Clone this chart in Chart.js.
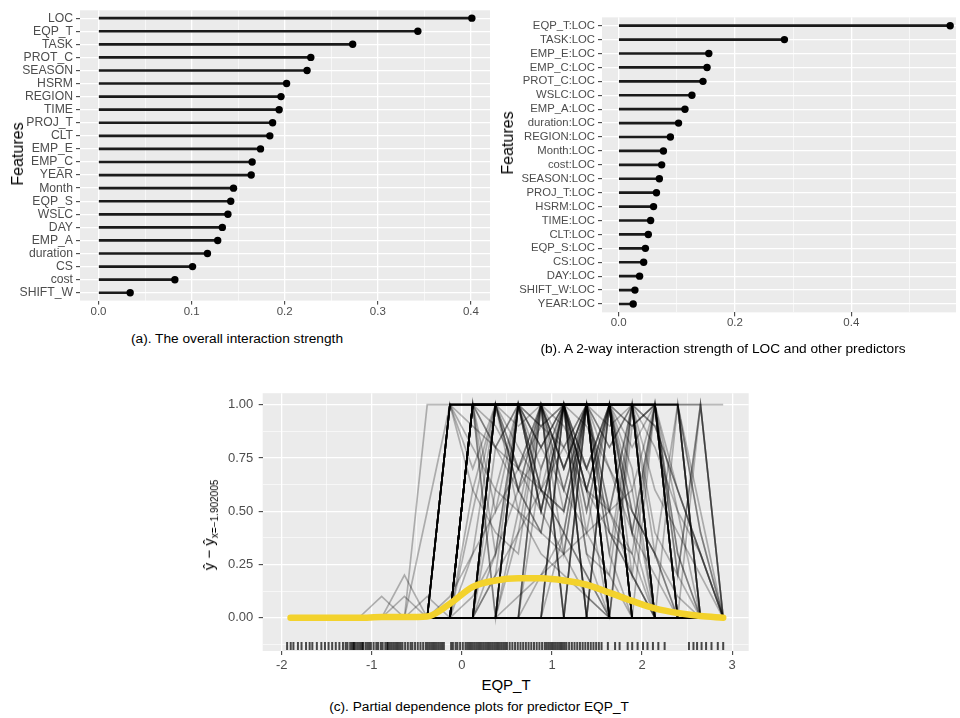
<!DOCTYPE html>
<html>
<head>
<meta charset="utf-8">
<title>Interaction strength and partial dependence</title>
<script src="https://cdn.jsdelivr.net/npm/chart.js@4.4.1/dist/chart.umd.min.js"></script>
<style>
  html, body { margin: 0; padding: 0; background: #fff; }
  body { position: relative; width: 960px; height: 718px; overflow: hidden; font-family: "Liberation Sans", Arial, sans-serif; }
  .panel { position: absolute; }
  .txt { position: absolute; white-space: nowrap; color: #000; transform: translate(-50%, -50%); }
  .cap { font-size: 13.7px; }
  .vert { transform: translate(-50%, -50%) rotate(-90deg); }
</style>
</head>
<body>
<div class="panel" style="left:0;top:0;width:494px;height:326px"><canvas id="chartA"></canvas></div>
<div class="panel" style="left:490px;top:0;width:470px;height:340px"><canvas id="chartB"></canvas></div>
<div class="panel" style="left:185px;top:380px;width:575px;height:292px"><canvas id="chartC"></canvas></div>

<div class="txt vert" style="left:17.5px;top:153.5px;font-size:16px">Features</div>
<div class="txt vert" style="left:508px;top:142.5px;font-size:16px">Features</div>
<div class="txt cap" style="left:237px;top:338px">(a). The overall interaction strength</div>
<div class="txt cap" style="left:723px;top:348px">(b). A 2-way interaction strength of LOC and other predictors</div>
<div class="txt vert" style="left:210px;top:525px;font-size:15px">ŷ − ŷ<sub style="font-size:10px">x=−1.902005</sub></div>
<div class="txt" style="left:506px;top:684px;font-size:15px">EQP_T</div>
<div class="txt cap" style="left:479px;top:706px">(c). Partial dependence plots for predictor EQP_T</div>

<script>
// (a) overall interaction strength
const featA = ['LOC', 'EQP_T', 'TASK', 'PROT_C', 'SEASON', 'HSRM', 'REGION', 'TIME', 'PROJ_T', 'CLT', 'EMP_E',
  'EMP_C', 'YEAR', 'Month', 'EQP_S', 'WSLC', 'DAY', 'EMP_A', 'duration', 'CS', 'cost', 'SHIFT_W'];
const strengthA = [0.401, 0.343, 0.273, 0.228, 0.224, 0.202, 0.196, 0.194, 0.187, 0.184, 0.174,
  0.165, 0.164, 0.145, 0.142, 0.139, 0.133, 0.128, 0.117, 0.101, 0.082, 0.034];
const ticksA = [0, 0.1, 0.2, 0.3, 0.4];
const tickLabelsA = ['0.0', '0.1', '0.2', '0.3', '0.4'];
const minorA = [0.05, 0.15, 0.25, 0.35];

// (b) 2-way interaction with LOC
const featB = ['EQP_T:LOC', 'TASK:LOC', 'EMP_E:LOC', 'EMP_C:LOC', 'PROT_C:LOC', 'WSLC:LOC', 'EMP_A:LOC',
  'duration:LOC', 'REGION:LOC', 'Month:LOC', 'cost:LOC', 'SEASON:LOC', 'PROJ_T:LOC', 'HSRM:LOC', 'TIME:LOC',
  'CLT:LOC', 'EQP_S:LOC', 'CS:LOC', 'DAY:LOC', 'SHIFT_W:LOC', 'YEAR:LOC'];
const strengthB = [0.570, 0.285, 0.155, 0.152, 0.145, 0.126, 0.114, 0.103, 0.089, 0.077, 0.074,
  0.070, 0.065, 0.060, 0.055, 0.051, 0.046, 0.043, 0.036, 0.028, 0.025];
const ticksB = [0, 0.2, 0.4];
const tickLabelsB = ['0.0', '0.2', '0.4'];
const minorB = [0.1, 0.3, 0.5];

// (c) ICE / PDP for EQP_T
const gridX = [-1.902, -1.649, -1.396, -1.144, -0.891, -0.638, -0.385, -0.133, 0.120, 0.373,
  0.626, 0.878, 1.131, 1.384, 1.637, 1.889, 2.142, 2.395, 2.648, 2.900];
// one char per grid point: digit = tenths, X = 1
const icePatterns = [
  '00000000000000000000', '000000XXXXXXXXXXXXXX', '0000000XXXXX00000000', '0000000XXXXXXX000000',
  '0000000XXXXXXXX00000', '0000000XXXXXXXXX0000', '00000000XXXX00000000', '00000000XXXXX0000000',
  '00000000XXXXXX000000', '00000000XXXXXXX00000', '00000000XXXXXXXX0000', '00000000XXXXXXXXX000',
  '000000000XXXXX000000', '000000000XXXXXX00000', '000000000XXXXXXX0000', '000000000XXXXXXXX000',
  '000000000XXXXXXXXX00', '0000000000XXXXXXX000', '0000000000XXXXXXXX00',
  '00001000000000000000', '00000000X97531000000', '0000000000X864200000', '000000013579XXX00000',
  '00000000XXX986420000', '0000000002468XXXX000', '000000000X7X5X300000', '0000000X643XXX000000',
  '00000000005XXXXXX300', '000000000000XXXX9630', '00000000000000XXX630', '0000000000000XXXXX50',
  '00000000XXXXXXXXXX40', '000000005X6X7X000000', '0000000000X5XXX00000', '00000000X5X8X6X40000',
  '000000003X9X7X520000', '0000005XXXXXX0000000', '00000100XXXXX0000000', '000000000000X6X4X000',
  '00000000000000X4X000', '0000000008XXXX742000', '0000000000000000XX00', '00000000000000000X00',
  '000000000000000000X0', '0000000000000XXXXXX0', '0000000000X6420XX000', '000000000X64X5X00000',
  '0000000000004XXXXX00', '00000000X8643X000000', '00000000000X7XXX0000',
  '0000000X865321000000', '00000000X8X642000000', '000000001368XXX00000', '0000000002X8X6X00000',
  '0000000000XX97X53000', '00000000X0X9X7530000', '000000000X86XX420000', '0000000003X5X7X9X000',
  '0000000000024XX8X500', '000000000000X9753100', '00000000000XX7X53000', '0000000000000X8X6420',
  '000000000000000X9630', '00000000000000XX8530', '0000000X7XX5X3000000', '000000006X7X8X9X0000',
  '0000000006XX3XX00000', '000000000007X5X9X300', '0000000000000009XX40', '00000000004X6X3X0000',
  '00000000X3X5X6000000', '000000000X6X7XX70000', '0000000000X7X4X2X000', '00000000000X6X8XX200',
  '0000000000000X5X3X00', '00000000000000X6X2X0', '0000000X98765X000000', '00000000X01234560000',
  '000000000X54X32X0000', '0000000000X65X43X000', '000000000000X65X42X0', '00000010000000000000',
  '00000200000000000000'
];
const iceCounts = [
  164, 1, 3, 3, 3, 3, 1, 3, 3, 3, 2, 2, 2, 2, 2, 1, 1, 1, 1,
  1, 1, 1, 1, 1, 1, 1, 1, 1, 1, 1, 1, 1, 1, 1, 1, 1, 1, 1, 1, 1, 1, 1, 1, 1, 1, 1, 1, 1, 1, 1,
  1, 1, 1, 1, 1, 1, 1, 1, 1, 1, 1, 1, 1, 1, 1, 1, 1, 1, 1, 1, 1, 1, 1, 1, 1, 1, 1, 1, 1, 1, 1, 1, 1
];
const pdpY = [0, 0, 0, 0, 0.003, 0.003, 0.006, 0.066, 0.145, 0.175,
  0.186, 0.185, 0.175, 0.155, 0.118, 0.079, 0.044, 0.022, 0.008, 0];
const rugX = [
  -1.94, -1.90, -1.87, -1.82, -1.78, -1.73, -1.69, -1.66, -1.61, -1.56, -1.52, -1.48, -1.44, -1.40, -1.36,
  -1.32, -1.29, -1.27, -1.24, -1.22, -1.20, -1.20, -1.18, -1.16, -1.14, -1.12, -1.10, -1.10, -1.07, -1.05,
  -1.03, -1.01, -0.98, -0.95, -0.93, -0.90, -0.88, -0.85, -0.83, -0.82, -0.80, -0.78, -0.76, -0.74, -0.72,
  -0.70, -0.68, -0.66, -0.63, -0.60, -0.57, -0.55, -0.52, -0.49, -0.46, -0.43, -0.40, -0.38, -0.36, -0.34,
  -0.32, -0.30, -0.28, -0.26, -0.24, -0.22, -0.20,
  -0.12, -0.10, -0.07, -0.05, -0.02, 0.01, 0.04, 0.06, 0.08, 0.10, 0.12, 0.14, 0.16, 0.18, 0.20, 0.22,
  0.24, 0.26, 0.28, 0.30, 0.32, 0.34, 0.36, 0.38, 0.40, 0.42, 0.44, 0.46, 0.48, 0.50, 0.53, 0.56, 0.59,
  0.62, 0.65, 0.68, 0.71, 0.74, 0.77, 0.80, 0.83, 0.86, 0.89, 0.92, 0.94, 0.96, 0.98, 1.00, 1.02, 1.04,
  1.06, 1.08, 1.10, 1.12, 1.14, 1.16, 1.19, 1.22, 1.25, 1.28, 1.31, 1.34, 1.37, 1.40, 1.43, 1.46, 1.49,
  1.52, 1.55,
  1.62, 1.70, 1.75, 1.84, 1.89, 1.95, 2.01, 2.06, 2.12, 2.18, 2.25,
  2.52, 2.57, 2.61, 2.66, 2.71, 2.77, 2.84, 2.90
];
const ticksXC = [-2, -1, 0, 1, 2, 3];
const tickLabelsXC = ['-2', '-1', '0', '1', '2', '3'];
const minorXC = [-1.5, -0.5, 0.5, 1.5, 2.5];
const ticksYC = [0, 0.25, 0.5, 0.75, 1];
const tickLabelsYC = ['0.00', '0.25', '0.50', '0.75', '1.00'];
const minorYC = [-0.125, 0.125, 0.375, 0.625, 0.875];

// grey ggplot panel behind the plot area
const panelBg = {
  id: 'panelBg',
  beforeDraw(chart) {
    const { ctx, chartArea: a } = chart;
    ctx.save();
    ctx.fillStyle = '#EBEBEB';
    ctx.fillRect(a.left, a.top, a.right - a.left, a.bottom - a.top);
    ctx.restore();
  }
};

const font = size => ({ family: 'Liberation Sans', size });
const near = (list, v) => list.some(m => Math.abs(m - v) < 1e-6);

function valueAxis(min, max, majors, labels, minors, fontSize, axisSize, pad, vertical) {
  return {
    type: 'linear', min, max, offset: false,
    afterBuildTicks: s => { s.ticks = majors.concat(minors).sort((p, q) => p - q).map(value => ({ value })); },
    afterFit: s => { if (vertical) s.width = axisSize; else s.height = axisSize; },
    ticks: {
      autoSkip: false, maxRotation: 0, padding: pad, color: '#4D4D4D', font: font(fontSize),
      callback: v => {
        const i = majors.findIndex(m => Math.abs(m - v) < 1e-6);
        return i < 0 ? '' : labels[i];
      }
    },
    grid: {
      offset: false, color: '#FFFFFF',
      lineWidth: c => (c.tick && near(majors, c.tick.value)) ? 1.3 : 0.6,
      tickLength: 4, tickWidth: 1,
      tickColor: c => (c.tick && near(majors, c.tick.value)) ? '#333333' : 'rgba(0,0,0,0)'
    },
    border: { display: false }
  };
}

function rowAxis(feats, fontSize, axisW) {
  return {
    type: 'linear', reverse: true, min: -0.6, max: feats.length - 0.4, offset: false,
    afterBuildTicks: s => { s.ticks = feats.map((f, i) => ({ value: i })); },
    afterFit: s => { s.width = axisW; },
    ticks: { autoSkip: false, padding: 3, color: '#4D4D4D', font: font(fontSize), callback: v => feats[v] },
    grid: { offset: false, color: '#FFFFFF', lineWidth: 1.3, tickLength: 4, tickWidth: 1, tickColor: '#333333' },
    border: { display: false }
  };
}

function lollipop(id, feats, vals, xAxis, yAxis, padTop) {
  const pts = vals.map((v, i) => ({ x: v, y: i }));
  return new Chart(document.getElementById(id), {
    type: 'scatter',
    data: {
      datasets: [
        { data: pts, pointRadius: 3.7, pointBackgroundColor: '#000', pointBorderWidth: 0, order: 0 },
        { type: 'bar', indexAxis: 'y', data: pts, backgroundColor: '#1A1A1A', barThickness: 2, order: 1 }
      ]
    },
    options: {
      animation: false, responsive: true, maintainAspectRatio: false, events: [],
      layout: { padding: { top: padTop, left: 0, right: 0, bottom: 0 } },
      plugins: { legend: { display: false }, tooltip: { enabled: false } },
      scales: { x: xAxis, y: yAxis }
    },
    plugins: [panelBg]
  });
}

lollipop('chartA', featA, strengthA,
  valueAxis(-0.0199, 0.4205, ticksA, tickLabelsA, minorA, 11.5, 25.4, 0, false),
  rowAxis(featA, 12.2, 80), 9.4);

lollipop('chartB', featB, strengthB,
  valueAxis(-0.0286, 0.580, ticksB, tickLabelsB, minorB, 11.5, 27.65, 0, false),
  rowAxis(featB, 11.3, 112), 17.35);

// (c) ICE curves, PDP and rug
const iceValue = ch => ch === 'X' ? 1 : Number(ch) / 10;
const iceSets = [];
icePatterns.forEach((p, k) => {
  const pts = gridX.map((x, i) => ({ x, y: iceValue(p[i]) }));
  for (let n = 0; n < iceCounts[k]; n++) {
    iceSets.push({ data: pts, showLine: true, borderColor: 'rgba(0,0,0,0.27)', borderWidth: 1.7,
      pointRadius: 0, order: 2 });
  }
});
const pdpSet = {
  data: gridX.map((x, i) => ({ x, y: pdpY[i] })), showLine: true, borderColor: '#F3D22C', borderWidth: 6.5,
  borderCapStyle: 'round', borderJoinStyle: 'round', cubicInterpolationMode: 'monotone', pointRadius: 0, order: 0
};
const rugSet = {
  data: rugX.map(x => ({ x, y: -0.133 })), pointStyle: 'line', pointRotation: 90, pointRadius: 4,
  pointBorderColor: 'rgba(0,0,0,0.7)', pointBorderWidth: 2, order: 3
};

new Chart(document.getElementById('chartC'), {
  type: 'scatter',
  data: { datasets: [pdpSet, ...iceSets, rugSet] },
  options: {
    animation: false, responsive: true, maintainAspectRatio: false, events: [],
    layout: { padding: { top: 12.7, left: 0, right: 11.3, bottom: 0 } },
    plugins: { legend: { display: false }, tooltip: { enabled: false } },
    scales: {
      x: valueAxis(-2.211, 3.183, ticksXC, tickLabelsXC, minorXC, 13, 21, 3, false),
      y: valueAxis(-0.156, 1.054, ticksYC, tickLabelsYC, minorYC, 13, 77.7, 5.4, true)
    }
  },
  plugins: [panelBg]
});
</script>
</body>
</html>
